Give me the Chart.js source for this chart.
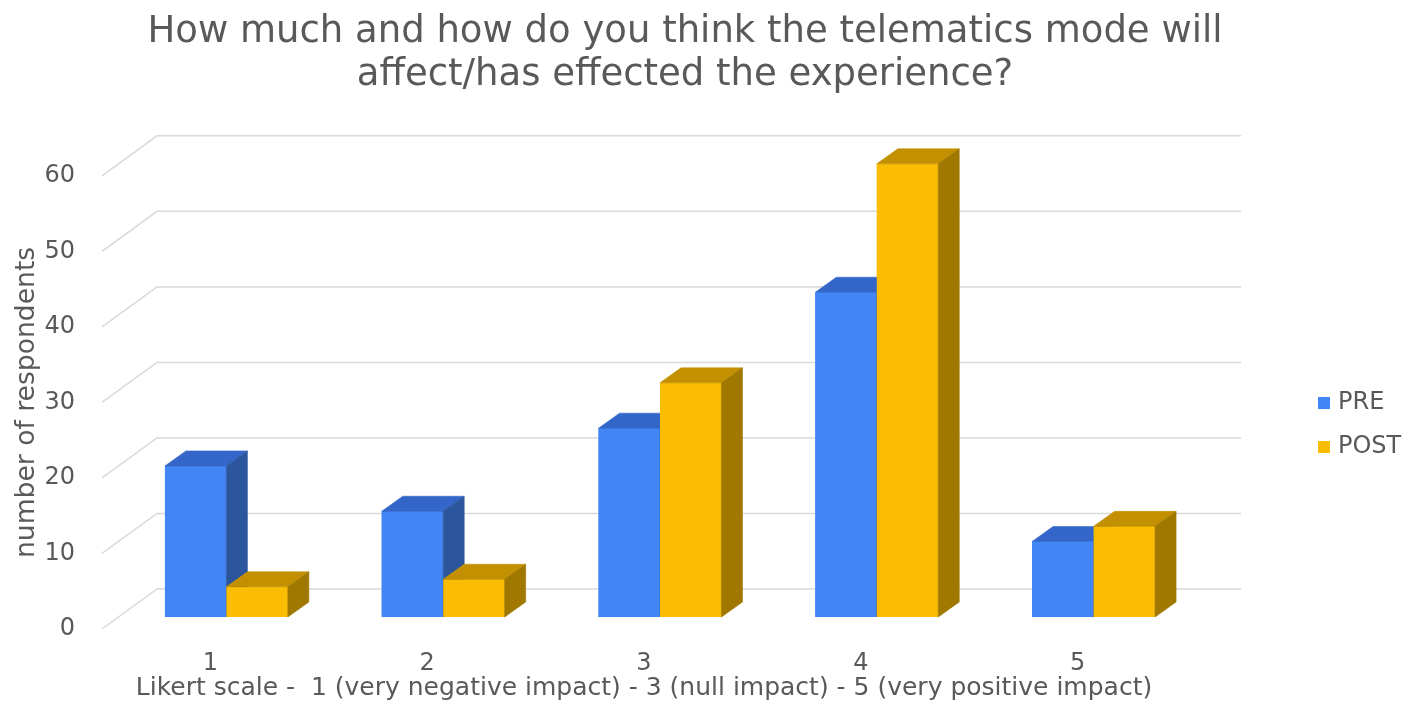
<!DOCTYPE html>
<html>
<head>
<meta charset="utf-8">
<script src="https://cdn.jsdelivr.net/npm/chart.js@4.4.1/dist/chart.umd.min.js"></script>
<style>
  html, body { margin: 0; padding: 0; background: #fff; }
  #wrap { width: 1417px; height: 727px; }
</style>
</head>
<body>
<div id="wrap"><canvas id="chart"></canvas></div>
<script>
// values
var categories = ["1", "2", "3", "4", "5"];
var preValues = [20, 14, 25, 43, 10];
var postValues = [4, 5, 31, 60, 12];
var seriesNames = ["PRE", "POST"];
var yMax = 60;
var yStep = 10;

var chartTitle = ["How much and how do you think the telematics mode will", "affect/has effected the experience?"];
var xTitle = "Likert scale -  1 (very negative impact) - 3 (null impact) - 5 (very positive impact)";
var yTitle = "number of respondents";

// fake 3d geometry, in pixels
var depthX = 21, depthY = 15;   // depth of a bar
var wallX = 39, wallY = 28;     // back wall behind the bar fronts
var frontX = 16, frontY = 12;   // front edge of the floor
var textColor = "#595959";
var gridColor = "#d9d9d9";

Chart.defaults.font.family = "'DejaVu Sans', sans-serif";
Chart.defaults.color = textColor;

// grid lines on the back wall and the side wall
var wallsPlugin = {
  id: "walls",
  beforeDatasetsDraw: function (chart) {
    var ctx = chart.ctx, area = chart.chartArea, y = chart.scales.y;
    ctx.save();
    ctx.strokeStyle = gridColor;
    ctx.lineWidth = 1.5;
    y.ticks.forEach(function (t) {
      var py = y.getPixelForValue(t.value);
      ctx.beginPath();
      ctx.moveTo(area.left - frontX, py + frontY);
      ctx.lineTo(area.left + wallX, py - wallY);
      ctx.lineTo(area.right + wallX, py - wallY);
      ctx.stroke();
    });
    ctx.restore();
  }
};

function face(ctx, pts, color) {
  ctx.beginPath();
  ctx.moveTo(pts[0][0], pts[0][1]);
  for (var i = 1; i < pts.length; i++) ctx.lineTo(pts[i][0], pts[i][1]);
  ctx.closePath();
  ctx.fillStyle = color;
  ctx.strokeStyle = color;
  ctx.lineWidth = 0.6;
  ctx.fill();
  ctx.stroke();
}

// chart.js paints the last dataset first, so repaint left to right:
// front (library element), then top and side faces
var boxPlugin = {
  id: "boxes",
  afterDatasetsDraw: function (chart) {
    var ctx = chart.ctx;
    ctx.save();
    chart.data.datasets.forEach(function (ds, i) {
      chart.getDatasetMeta(i).data.forEach(function (bar) {
        bar.draw(ctx, chart.chartArea);
        var p = bar.getProps(["x", "y", "base", "width"], true);
        var l = p.x - p.width / 2, r = p.x + p.width / 2;
        face(ctx, [[l, p.y], [l + depthX, p.y - depthY], [r + depthX, p.y - depthY], [r, p.y]], ds.topColor);
        face(ctx, [[r, p.y], [r + depthX, p.y - depthY], [r + depthX, p.base - depthY], [r, p.base]], ds.sideColor);
      });
    });
    ctx.restore();
  }
};

// axis titles and legend
var textPlugin = {
  id: "texts",
  afterDraw: function (chart) {
    var ctx = chart.ctx, area = chart.chartArea;
    ctx.save();
    ctx.fillStyle = textColor;
    ctx.textBaseline = "middle";

    ctx.font = "25px 'DejaVu Sans'";
    ctx.textAlign = "center";
    ctx.fillText(xTitle, (area.left + area.right) / 2 - frontX, 688);

    ctx.save();
    ctx.font = "26.6px 'DejaVu Sans'";
    ctx.translate(27, (area.top + area.bottom) / 2 + frontY);
    ctx.rotate(-Math.PI / 2);
    ctx.fillText(yTitle, 0, 0);
    ctx.restore();

    ctx.font = "24px 'DejaVu Sans'";
    ctx.textAlign = "left";
    chart.data.datasets.forEach(function (ds, i) {
      var cy = 403 + i * 44;
      ctx.fillStyle = ds.backgroundColor;
      ctx.fillRect(1318, cy - 6, 12, 12);
      ctx.fillStyle = textColor;
      ctx.fillText(ds.label, 1338, cy);
    });
    ctx.restore();
  }
};

new Chart(document.getElementById("chart"), {
  type: "bar",
  data: {
    labels: categories,
    datasets: [
      {
        label: seriesNames[0],
        data: preValues,
        backgroundColor: "#4285F4",
        topColor: "#3366C8",
        sideColor: "#2B569E",
        borderWidth: 0,
        barPercentage: 1,
        categoryPercentage: 0.567
      },
      {
        label: seriesNames[1],
        data: postValues,
        backgroundColor: "#FBBC04",
        topColor: "#C29000",
        sideColor: "#A07800",
        borderWidth: 0,
        barPercentage: 1,
        categoryPercentage: 0.567
      }
    ]
  },
  options: {
    responsive: true,
    maintainAspectRatio: false,
    animation: false,
    layout: { padding: { left: 0, right: 47, top: 0, bottom: 0 } },
    plugins: {
      legend: { display: false },
      tooltip: { enabled: false },
      title: {
        display: true,
        text: chartTitle,
        color: textColor,
        font: { size: 37, weight: "normal", lineHeight: 1.16 },
        padding: { top: 11, bottom: 67 }
      }
    },
    scales: {
      x: {
        grid: { display: false },
        border: { display: false },
        ticks: { font: { size: 24, lineHeight: 1.2 }, padding: 24, labelOffset: -frontX },
        afterFit: function (s) { s.height = 110; }
      },
      y: {
        min: 0,
        max: yMax,
        grid: { display: false },
        border: { display: false },
        ticks: { stepSize: yStep, font: { size: 24 }, padding: 35, labelOffset: frontY },
        afterFit: function (s) { s.width = 118; }
      },
      pad: {
        type: "linear",
        position: "right",
        grid: { display: false },
        border: { display: false },
        ticks: { display: false },
        afterFit: function (s) { s.width = 168; }
      }
    }
  },
  plugins: [wallsPlugin, boxPlugin, textPlugin]
});
</script>
</body>
</html>
